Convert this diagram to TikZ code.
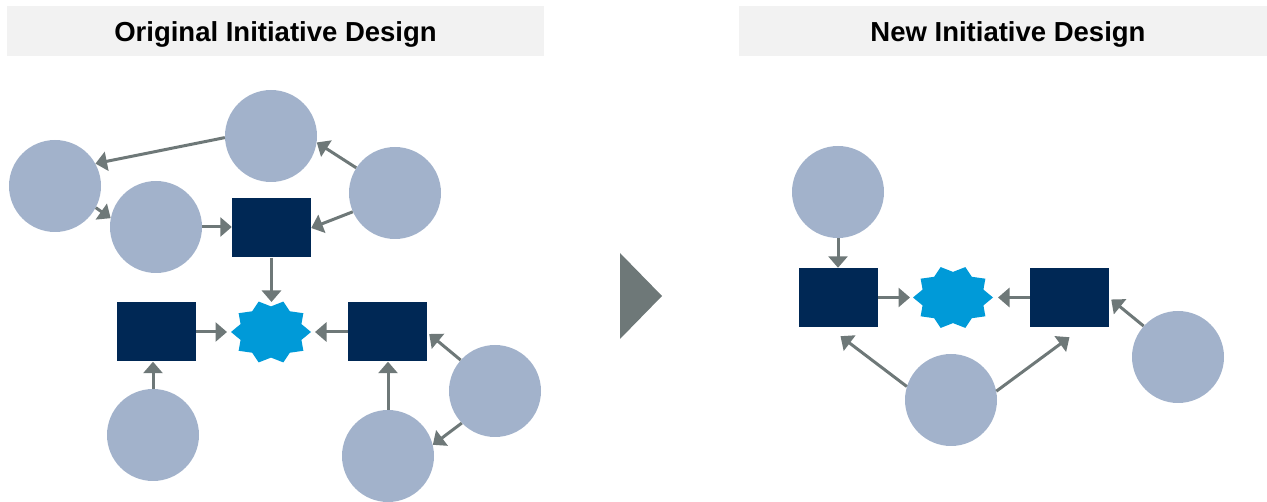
\documentclass[tikz,border=0pt]{standalone}
\usepackage{fontspec}
\setmainfont{Liberation Sans}
\usetikzlibrary{arrows.meta,calc}
\definecolor{circc}{HTML}{A2B2CB}
\definecolor{navyc}{HTML}{002855}
\definecolor{starc}{HTML}{009AD8}
\definecolor{arrc}{HTML}{6E7878}
\definecolor{hdrc}{HTML}{F2F2F2}
\tikzset{
  blob/.style={circle,fill=circc,draw=none,minimum size=92pt,inner sep=0pt},
  box/.style={rectangle,fill=navyc,draw=none,minimum width=79pt,minimum height=59pt,inner sep=0pt},
  hdrbox/.style={rectangle,fill=hdrc,draw=none,minimum height=50pt,inner sep=0pt},
  hdrtext/.style={font=\fontsize{27.5}{30}\selectfont\bfseries,text=black,inner sep=0pt},
  arr/.style={draw=arrc,line width=3pt,-{Triangle[length=11.5pt,width=19pt]}},
}
\newcommand{\burst}[1]{%
  \fill[starc,shift={(#1)}] plot[samples at={0,...,19}]
    ({40*(1-0.2*mod(\x,2))*cos(18*\x)},{32*(1-0.2*mod(\x,2))*sin(18*\x)}) -- cycle;}
\begin{document}
\begin{tikzpicture}[x=1pt,y=-1pt]
\useasboundingbox (0,0) rectangle (1267,502);
% headers
\node[hdrbox,minimum width=537pt] (h1) at (275.5,31) {};
\node[hdrtext,anchor=base] (t1) at ($(h1.center)+(0,11)$) {Original Initiative Design};
\node[hdrbox,minimum width=528pt] (h2) at (1003,31) {};
\node[hdrtext,anchor=base] (t2) at ($(h2.center)+(5,11)$) {New Initiative Design};
% left diagram
\node[blob] (c1) at (271,136) {};
\node[blob] (c2) at (55,186) {};
\node[blob] (c3) at (395,193) {};
\node[blob] (c4) at (156,227) {};
\node[blob] (c5) at (495,391) {};
\node[blob] (c6) at (153,435) {};
\node[blob] (c7) at (388,456) {};
\node[box] (r1) at (271.5,228) {};
\node[box] (r2) at (156.5,332) {};
\node[box] (r3) at (387.5,332) {};
\coordinate (s1) at (271,332);
\burst{s1}
\draw[arr] (c1.182) -- (c2.29);
\draw[arr] (c3.147) -- (c1.-8);
\draw[arr] (c3.204) -- (r1.east);
\draw[arr] (c2.-28) -- (c4.169);
\draw[arr] (c4.east) -- (c4.east -| r1.west);
\draw[arr] (r1.south) -- ($(r1.south |- s1)+(0,-30)$);
\draw[arr] (r2.east) -- ($(r2.east -| s1)+(-44,0)$);
\draw[arr] (r3.west) -- ($(r3.west -| s1)+(44,0)$);
\draw[arr] (c6.north) -- (c6.north |- r2.south);
\draw[arr] (c7.north) -- (c7.north |- r3.south);
\draw[arr] (c5.138) -- ($(r3.east)+(2,2)$);
\draw[arr] (c5.224) -- (c7.14);
% middle triangle
\fill[arrc] (620,253) -- (662,296) -- (620,339) -- cycle;
% right diagram
\node[blob] (c8) at (838,192) {};
\node[blob] (c9) at (1178,357) {};
\node[blob] (c10) at (951,400) {};
\node[box] (r4) at (838.5,297.5) {};
\node[box] (r5) at (1069.5,297.5) {};
\coordinate (s2) at (953,297.5);
\burst{s2}
\draw[arr] (c8.south) -- (c8.south |- r4.north);
\draw[arr] (r4.east) -- ($(r4.east -| s2)+(-43,0)$);
\draw[arr] (r5.west) -- ($(r5.west -| s2)+(45,0)$);
\draw[arr] (c9.138) -- ($(r5.east)+(2,2)$);
\draw[arr] (c10.163) -- ($(r4.south)+(2,9)$);
\draw[arr] (c10.11) -- ($(r5.south)+(0,10)$);
\end{tikzpicture}
\end{document}
